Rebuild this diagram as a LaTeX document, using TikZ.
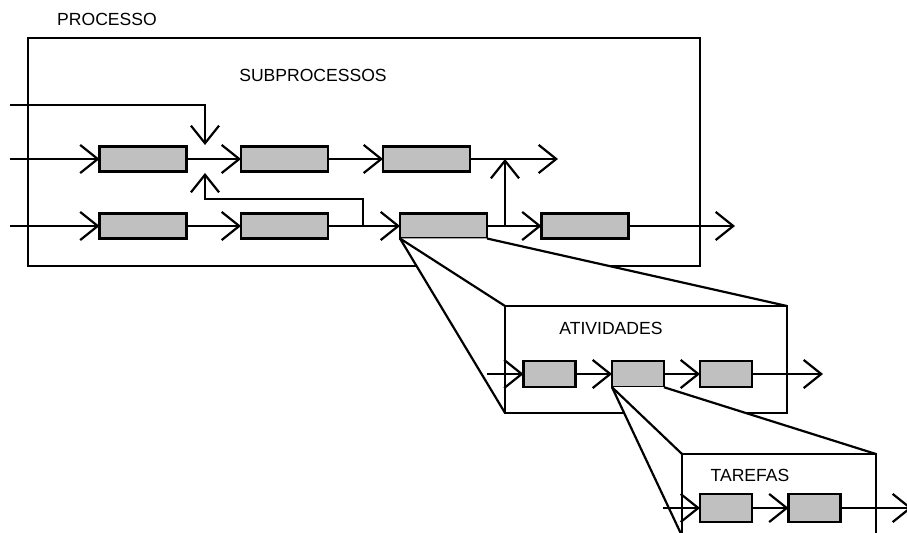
\documentclass[tikz,border=0pt]{standalone}
\usepackage{fontspec}
\setmainfont{Liberation Sans}
\usetikzlibrary{arrows.meta,positioning}
\definecolor{caixaCinza}{RGB}{192,192,192}

\begin{document}
\begin{tikzpicture}[x=0.02cm,y=-0.02cm,line width=1.25pt,
        etapa/.style={draw,fill=caixaCinza,outer sep=0pt,inner sep=0pt,minimum width=1.74cm,minimum height=0.5cm},
        miniEtapa/.style={etapa,minimum width=1.04cm,minimum height=0.53cm},
        quadro/.style={draw,outer sep=0pt,inner sep=0pt},
        rotulo/.style={font=\fontsize{10}{12}\selectfont},
        seta/.style={-{Straight Barb[length=10pt,width=16pt]}},
        zoom/.style={fill=white,draw=none}
      ]
        \useasboundingbox (0,0) rectangle (907,533);
        % processo
        \node[quadro,minimum width=13.44cm,minimum height=4.56cm] (proc) at (364,152) {};
        \node[rotulo] (tProc) at (107,19) {PROCESSO};
        \node[rotulo] (tSub) at (313,75) {SUBPROCESSOS};
        \node[etapa] (r1a) at (143,159) {};
        \node[etapa] (r1b) at (284.5,159) {};
        \node[etapa] (r1c) at (426.5,159) {};
        \node[etapa] (r2a) at (143,226) {};
        \node[etapa] (r2b) at (284.5,226) {};
        \node[etapa] (r2c) at (443.5,226) {};
        \node[etapa] (r2d) at (585,226) {};
        \coordinate (e0) at (10,105);
        \coordinate (e1) at (10,159);
        \coordinate (e2) at (10,226);
        \coordinate (s1) at (558,159);
        \coordinate (s2) at (735,226);
        \coordinate (m1) at (205,145);
        \coordinate (m2) at (205,173);
        \coordinate (f0) at (363,226);
        \coordinate (g0) at (505,226);
        \coordinate (g1) at (505,159);
        \draw[seta] (e1) -- (r1a.west);
        \draw[seta] (r1a) -- (r1b);
        \draw[seta] (r1b) -- (r1c);
        \draw[seta] (r1c.east) -- (s1);
        \draw[seta] (e2) -- (r2a.west);
        \draw[seta] (r2a) -- (r2b);
        \draw[seta] (r2b) -- (r2c);
        \draw[seta] (r2c) -- (r2d);
        \draw[seta] (r2d.east) -- (s2);
        \draw[seta] (e0) -| (m1);
        \draw[seta] (f0) -- ++(0,-27) -| (m2);
        \draw[seta] (g0) -- (g1);
        % atividades
        \node[quadro,minimum width=5.64cm,minimum height=2.14cm] (atv) at (646,359.5) {};
        \fill[zoom] (r2c.south west) -- (atv.south west) -- (atv.north east) -- (r2c.south east) -- cycle;
        \draw (r2c.south west) -- (atv.north west);
        \draw (r2c.south west) -- (atv.south west);
        \draw (r2c.south east) -- (atv.north east);
        \node[quadro,minimum width=5.64cm,minimum height=2.14cm] (atv) at (646,359.5) {};
        \node[rotulo] (tAtv) at (611,328) {ATIVIDADES};
        \node[miniEtapa] (a1) at (549.5,374) {};
        \node[miniEtapa] (a2) at (638,374) {};
        \node[miniEtapa] (a3) at (726,374) {};
        \coordinate (ea) at (487,374);
        \coordinate (sa) at (823,374);
        \draw[seta] (ea) -- (a1.west);
        \draw[seta] (a1) -- (a2);
        \draw[seta] (a2) -- (a3);
        \draw[seta] (a3.east) -- (sa);
        % tarefas
        \node[quadro,minimum width=3.88cm,minimum height=1.64cm] (tar) at (779,495) {};
        \fill[zoom] (a2.south west) -- (tar.south west) -- (tar.north east) -- (a2.south east) -- cycle;
        \draw (a2.south west) -- (tar.north west);
        \draw (a2.south west) -- (tar.south west);
        \draw (a2.south east) -- (tar.north east);
        \node[quadro,minimum width=3.88cm,minimum height=1.64cm] (tar) at (779,495) {};
        \node[rotulo] (tTar) at (750,475) {TAREFAS};
        \node[miniEtapa,minimum height=0.56cm] (t1) at (726,508) {};
        \node[miniEtapa,minimum height=0.56cm] (t2) at (814.5,508) {};
        \coordinate (et) at (663,508);
        \coordinate (st) at (912,508);
        \draw[seta] (et) -- (t1.west);
        \draw[seta] (t1) -- (t2);
        \draw[seta] (t2.east) -- (st);
      \end{tikzpicture}
\end{document}
